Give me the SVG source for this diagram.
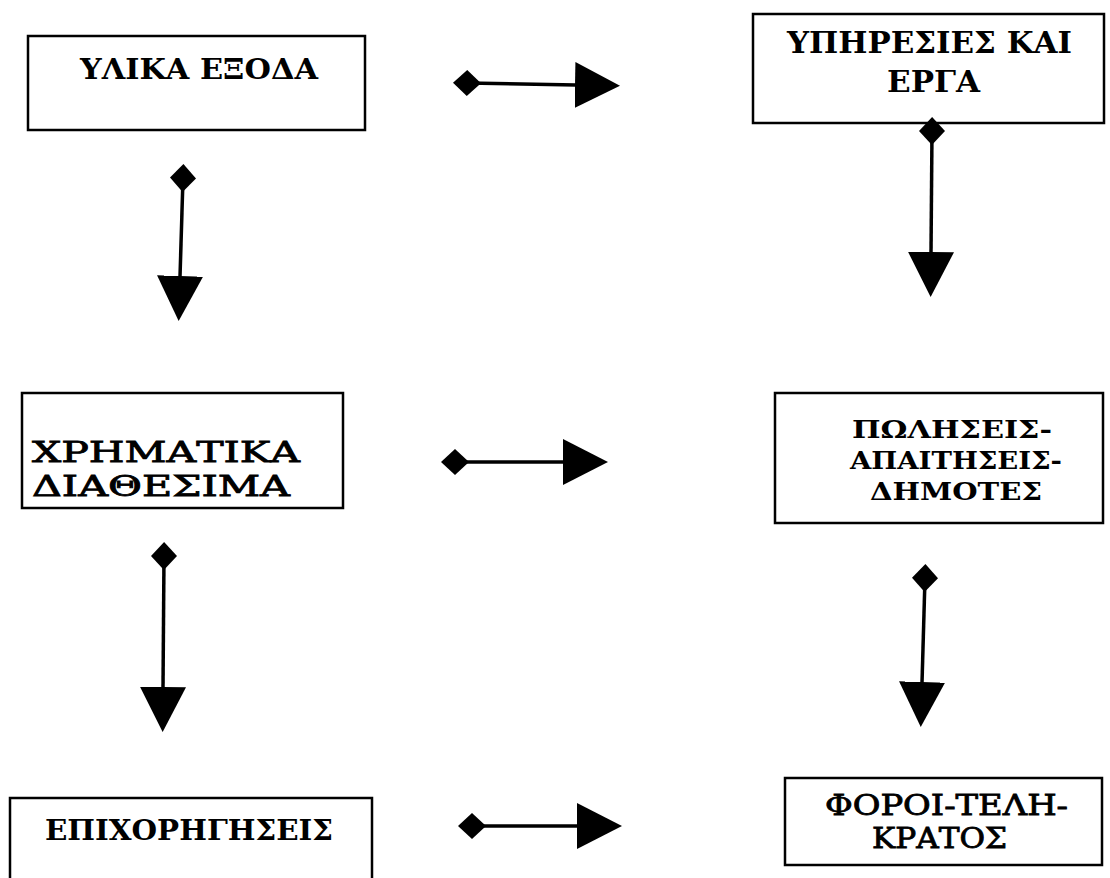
<svg xmlns="http://www.w3.org/2000/svg" width="1110" height="878" viewBox="0 0 1110 878">
<style>
.box{fill:#fff;stroke:#000;stroke-width:2.5}
.t{font-family:"DejaVu Serif","Liberation Serif",serif;font-weight:bold;fill:#000}
.n{font-weight:normal;stroke:#000;stroke-width:0.8}
.c{stroke:#000;stroke-width:3.5;fill:none}
</style>
<defs>
<marker id="dia" viewBox="0 0 28 26" refX="14" refY="13" markerWidth="28" markerHeight="26" markerUnits="userSpaceOnUse" orient="auto">
<path d="M0,13 L14,0 L28,13 L14,26 Z" fill="#000"/>
</marker>
<marker id="tri" viewBox="0 0 45 46" refX="1" refY="23" markerWidth="45" markerHeight="46" markerUnits="userSpaceOnUse" orient="auto">
<path d="M0,0 L45,23 L0,46 Z" fill="#000"/>
</marker>
</defs>
<rect width="1110" height="878" fill="#fff"/>
<g id="n1"><rect class="box" x="28" y="36" width="337" height="94"/><text class="t" x="80" y="79" font-size="27" textLength="238" lengthAdjust="spacingAndGlyphs">ΥΛΙΚΑ ΕΞΟΔΑ</text></g>
<g id="n2"><rect class="box" x="753" y="14" width="351" height="109"/><text class="t" x="787" y="53" font-size="29" textLength="285" lengthAdjust="spacingAndGlyphs">ΥΠΗΡΕΣΙΕΣ ΚΑΙ</text><text class="t" x="887" y="92" font-size="29" textLength="93" lengthAdjust="spacingAndGlyphs">ΕΡΓΑ</text></g>
<g id="n3"><rect class="box" x="22" y="393" width="321" height="115"/><text class="t n" x="32" y="462" font-size="28" textLength="268" lengthAdjust="spacingAndGlyphs">ΧΡΗΜΑΤΙΚΑ</text><text class="t n" x="32" y="496" font-size="28" textLength="258" lengthAdjust="spacingAndGlyphs">ΔΙΑΘΕΣΙΜΑ</text></g>
<g id="n4"><rect class="box" x="775" y="393" width="328" height="130"/><text class="t" x="852" y="438" font-size="25" textLength="200" lengthAdjust="spacingAndGlyphs">ΠΩΛΗΣΕΙΣ-</text><text class="t" x="850" y="469" font-size="25" textLength="212" lengthAdjust="spacingAndGlyphs">ΑΠΑΙΤΗΣΕΙΣ-</text><text class="t" x="870" y="500" font-size="25" textLength="172" lengthAdjust="spacingAndGlyphs">ΔΗΜΟΤΕΣ</text></g>
<g id="n5"><rect class="box" x="10" y="798" width="362" height="100"/><text class="t" x="45" y="840" font-size="27" textLength="288" lengthAdjust="spacingAndGlyphs">ΕΠΙΧΟΡΗΓΗΣΕΙΣ</text></g>
<g id="n6"><rect class="box" x="785" y="778" width="317" height="87"/><text class="t n" x="825" y="815" font-size="27" textLength="243" lengthAdjust="spacingAndGlyphs">ΦΟΡΟΙ-ΤΕΛΗ-</text><text class="t n" x="872" y="848" font-size="27" textLength="135" lengthAdjust="spacingAndGlyphs">ΚΡΑΤΟΣ</text></g>
<g id="connectors">
<line class="c" x1="467" y1="83" x2="576" y2="85" marker-start="url(#dia)" marker-end="url(#tri)"/>
<line class="c" x1="455" y1="462" x2="564" y2="462" marker-start="url(#dia)" marker-end="url(#tri)"/>
<line class="c" x1="472" y1="826" x2="578" y2="826" marker-start="url(#dia)" marker-end="url(#tri)"/>
<line class="c" x1="183" y1="178" x2="180" y2="277" marker-start="url(#dia)" marker-end="url(#tri)"/>
<line class="c" x1="932" y1="131" x2="931" y2="253" marker-start="url(#dia)" marker-end="url(#tri)"/>
<line class="c" x1="164" y1="556" x2="163" y2="688" marker-start="url(#dia)" marker-end="url(#tri)"/>
<line class="c" x1="925" y1="578" x2="922" y2="683" marker-start="url(#dia)" marker-end="url(#tri)"/>
</g>
</svg>
